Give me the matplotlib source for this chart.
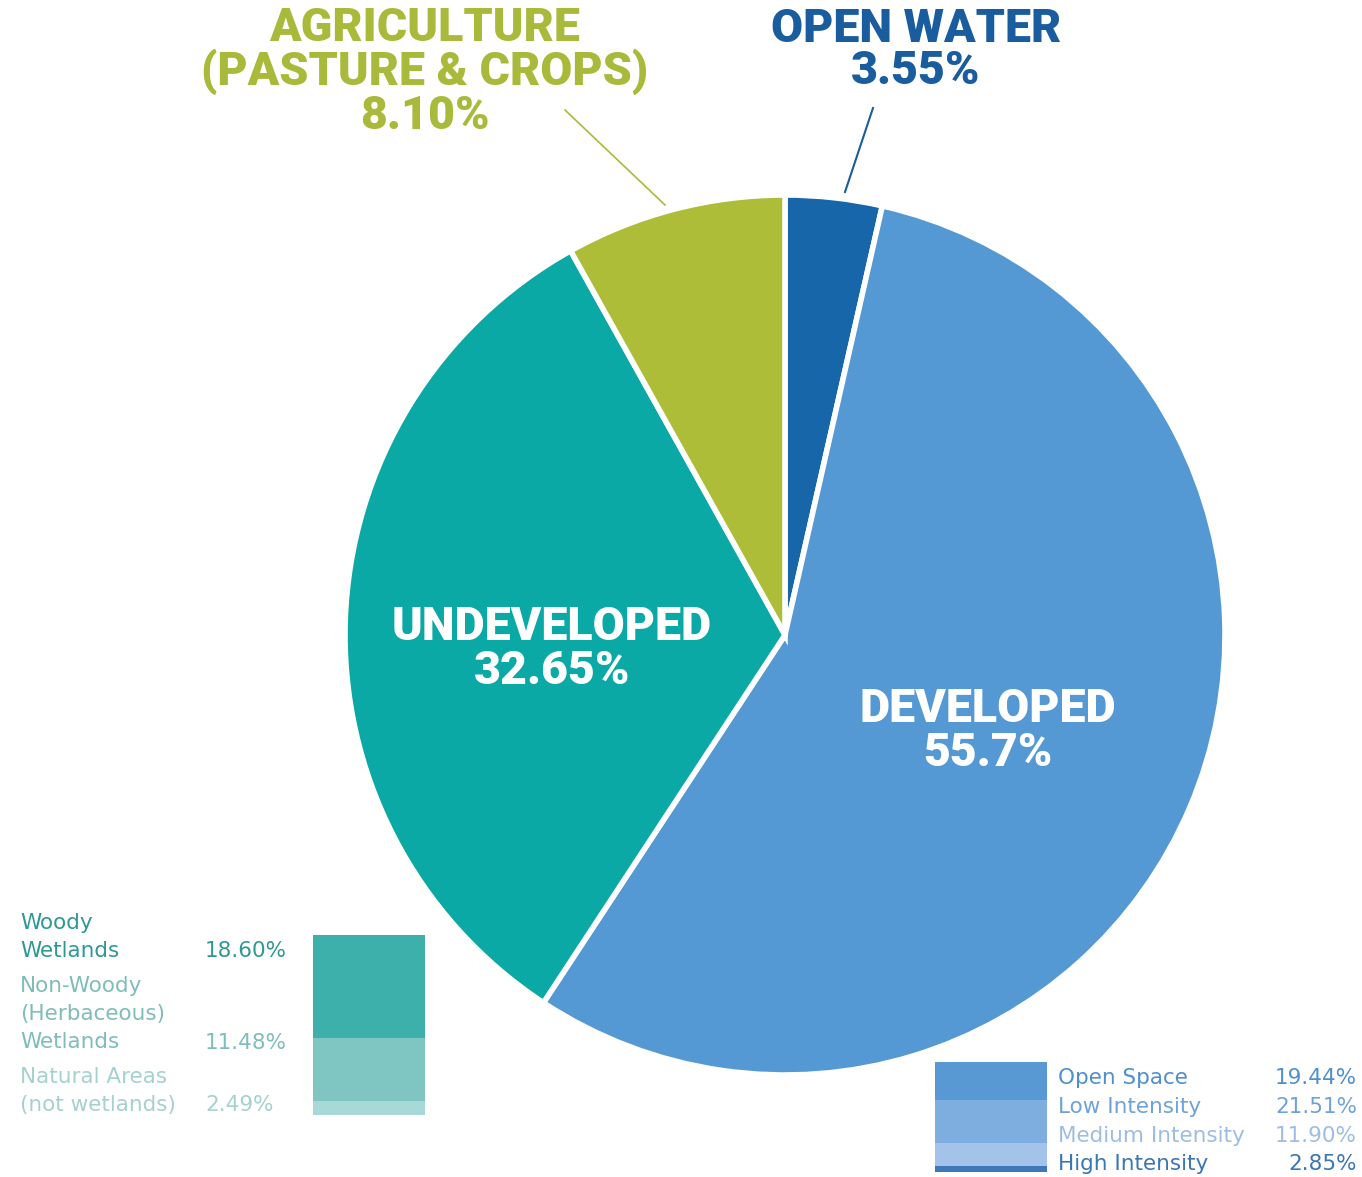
import matplotlib.pyplot as plt

W, H = 1362, 1177

# main pie, clockwise from the top
main_labels = ['OPEN WATER', 'DEVELOPED', 'UNDEVELOPED', 'AGRICULTURE\n(PASTURE & CROPS)']
main_values = [3.55, 55.7, 32.65, 8.10]
main_text = ['3.55%', '55.7%', '32.65%', '8.10%']
main_colors = ['#1766aa', '#5499d3', '#0aa9a6', '#adbd37']

# undeveloped breakdown
undev_labels = ['Woody\nWetlands', 'Non-Woody\n(Herbaceous)\nWetlands', 'Natural Areas\n(not wetlands)']
undev_values = [18.60, 11.48, 2.49]
undev_colors = ['#3eb0ab', '#7fc5c1', '#a9d9d6']
undev_text_colors = ['#2f9894', '#7fbdba', '#a5d1cf']

# developed breakdown
dev_labels = ['Open Space', 'Low Intensity', 'Medium Intensity', 'High Intensity']
dev_values = [19.44, 21.51, 11.90, 2.85]
dev_colors = ['#5899d3', '#7eaee0', '#a3c3e9', '#3d78b8']
dev_text_colors = ['#4f8fcf', '#6fa2d8', '#9dbde3', '#3b76b5']

head_font = ['Roboto', 'DejaVu Sans']
small_font = ['DejaVu Sans']

fig = plt.figure(figsize=(W / 100, H / 100), dpi=100)
ax = fig.add_axes([0, 0, 1, 1])

def Y(y):
    return H - y

cx, cy, r = 785, 635, 440
ax.pie(main_values, colors=main_colors, startangle=90, counterclock=False,
       center=(cx, Y(cy)), radius=r, frame=True,
       wedgeprops=dict(edgecolor='white', linewidth=4))
ax.set_xlim(0, W)
ax.set_ylim(0, H)
ax.set_aspect('equal')
ax.axis('off')

hs = 33.5
hw = 900
# labels inside
ax.text(552, Y(649), main_labels[2] + '\n' + main_text[2], color='white', fontsize=hs,
        fontweight=hw, family=head_font, ha='center', va='center', linespacing=1.0)
ax.text(988, Y(731), main_labels[1] + '\n' + main_text[1], color='white', fontsize=hs,
        fontweight=hw, family=head_font, ha='center', va='center', linespacing=1.0)
# labels outside
ax.text(425, Y(72), main_labels[3] + '\n' + main_text[3], color='#a9ba3a', fontsize=hs,
        fontweight=hw, family=head_font, ha='center', va='center', linespacing=0.97)
ax.text(916, Y(50), main_labels[0] + '\n' + main_text[0], color='#1a5d9e', fontsize=hs,
        fontweight=hw, family=head_font, ha='center', va='center', linespacing=0.97)
ax.plot([565, 665], [Y(110), Y(205)], color='#a9ba3a', lw=1.2)
ax.plot([873, 845], [Y(108), Y(192)], color='#1a5d9e', lw=1.5)

# left stacked bar
scale = 180 / sum(undev_values)
top = Y(935)
for v, c in zip(undev_values, undev_colors):
    ax.bar(369, v * scale, width=112, bottom=top - v * scale, color=c, lw=0)
    top -= v * scale

fs = 15.5
undev_y = [937, 1014, 1091]
val_y = [951, 1043, 1105]
for lab, val, c, y, vy in zip(undev_labels, undev_values, undev_text_colors, undev_y, val_y):
    ax.text(20, Y(y), lab, color=c, fontsize=fs, family=small_font, ha='left', va='center',
            linespacing=1.5)
    ax.text(205, Y(vy), f'{val:.2f}%', color=c, fontsize=fs, family=small_font, ha='left',
            va='center')

# right stacked bar
scale2 = 110 / sum(dev_values)
top = Y(1062)
for v, c in zip(dev_values, dev_colors):
    ax.bar(991, v * scale2, width=112, bottom=top - v * scale2, color=c, lw=0)
    top -= v * scale2

dev_y = [1078, 1107, 1136, 1164]
for lab, val, c, y in zip(dev_labels, dev_values, dev_text_colors, dev_y):
    ax.text(1058, Y(y), lab, color=c, fontsize=fs, family=small_font, ha='left', va='center')
    ax.text(1357, Y(y), f'{val:.2f}%', color=c, fontsize=fs, family=small_font, ha='right', va='center')

fig.savefig('out.png', dpi=100, facecolor='white')
